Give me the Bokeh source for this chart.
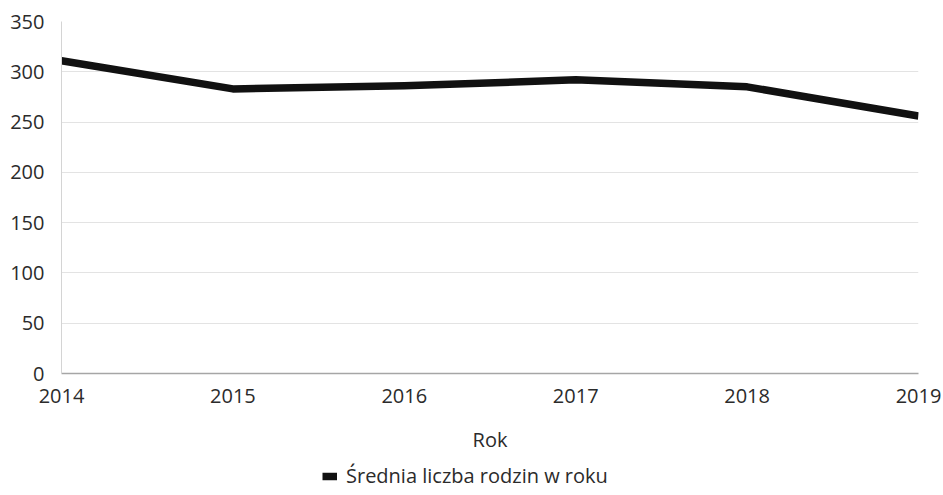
from bokeh.plotting import figure
from bokeh.layouts import column
from bokeh.models import Legend, LegendItem, Range1d, FixedTicker
from bokeh.embed import file_html
from bokeh.resources import INLINE

years = [2014, 2015, 2016, 2017, 2018, 2019]
values = [311, 283, 286, 292, 285, 256]
y_ticks = [0, 50, 100, 150, 200, 250, 300, 350]
series_name = "Średnia liczba rodzin w roku"
x_label = "Rok"

FONT = "Open Sans"
TXT = "#2b2b2b"
LINE_KW = dict(line_color="#111111", line_width=7.5, line_join="round")

p = figure(frame_width=857, frame_height=352, output_backend="svg", toolbar_location=None,
           x_range=Range1d(2014, 2019), y_range=Range1d(0, 350),
           min_border_left=61, min_border_right=23, min_border_top=21,
           min_border_bottom=84)
p.outline_line_color = None
p.background_fill_color = "white"

r = p.line(years, values, **LINE_KW)

# axes
p.xaxis.ticker = FixedTicker(ticks=years)
p.yaxis.ticker = FixedTicker(ticks=y_ticks)
for ax in (p.xaxis[0], p.yaxis[0]):
    ax.major_label_text_font = FONT
    ax.major_label_text_font_size = "20px"
    ax.major_label_text_color = TXT
    ax.major_tick_line_color = None
    ax.minor_tick_line_color = None
p.yaxis.axis_line_color = "#d4d4d4"
p.xaxis.axis_line_color = "#a6a6a6"
p.xaxis.axis_line_width = 1.5
p.yaxis.major_label_standoff = 11
p.xaxis.major_label_standoff = 9
p.xaxis.axis_label = x_label
p.xaxis.axis_label_text_font = FONT
p.xaxis.axis_label_text_font_size = "20px"
p.xaxis.axis_label_text_font_style = "normal"
p.xaxis.axis_label_text_color = TXT
p.xaxis.axis_label_standoff = 20

p.xgrid.grid_line_color = None
p.ygrid.grid_line_color = "#e3e3e3"
p.ygrid.grid_line_width = 1

# legend strip below the chart (proxy renderer lies outside its view)
lg = figure(width=941, height=36, output_backend="svg", toolbar_location=None,
            x_range=Range1d(0, 1), y_range=Range1d(0, 1),
            min_border_left=0, min_border_right=0, min_border_top=0, min_border_bottom=0)
lg.axis.visible = False
lg.grid.visible = False
lg.outline_line_color = None
r2 = lg.line(years, values, **LINE_KW)

legend = Legend(items=[LegendItem(label=series_name, renderers=[r2])],
                orientation="horizontal", location=(261, 4),
                border_line_color=None, background_fill_alpha=0,
                label_text_font=FONT, label_text_font_size="20px",
                label_text_color=TXT, glyph_width=15, glyph_height=20,
                label_height=20, label_standoff=9, margin=0, padding=0)
lg.add_layout(legend, "center")

layout = column(p, lg, spacing=0)
open("out.html", "w").write(file_html(layout, INLINE))
